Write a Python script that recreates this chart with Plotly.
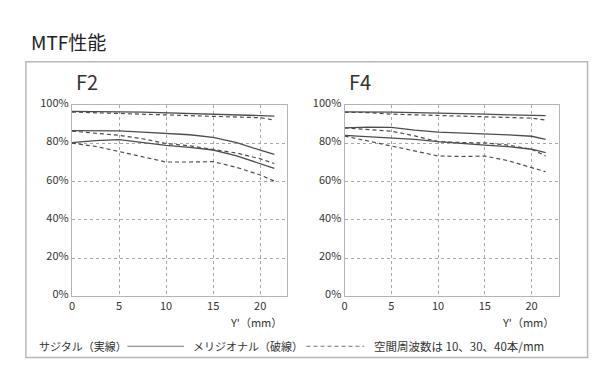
import plotly.graph_objects as go

# ---- data ----
y_pos = [0, 2.5, 5, 7.5, 10, 12.5, 15, 17.5, 20, 21.5]   # image height Y' (mm)

f2_sag_10 = [96.8, 96.8, 96.6, 96.4, 96.0, 95.8, 95.6, 95.0, 94.6, 94.4]
f2_sag_30 = [86.8, 86.8, 86.6, 86.0, 85.2, 84.6, 83.2, 80.5, 76.5, 74.3]
f2_sag_40 = [80.5, 81.5, 82.0, 80.5, 79.0, 78.0, 76.6, 73.5, 69.5, 67.0]
f2_mer_10 = [96.5, 96.2, 95.8, 95.5, 95.0, 94.6, 94.2, 94.0, 93.5, 92.3]
f2_mer_30 = [86.5, 85.3, 84.3, 82.5, 80.0, 78.8, 77.0, 75.0, 72.0, 69.5]
f2_mer_40 = [80.2, 78.5, 75.8, 73.0, 70.3, 70.3, 70.5, 67.5, 63.5, 60.3]

f4_sag_10 = [96.6, 96.6, 96.5, 96.2, 96.0, 95.7, 95.4, 95.0, 94.9, 94.6]
f4_sag_30 = [88.2, 88.6, 88.5, 87.0, 86.0, 85.6, 85.2, 84.5, 83.8, 82.2]
f4_sag_40 = [84.3, 83.6, 82.9, 82.2, 81.0, 80.0, 79.2, 78.4, 77.0, 75.2]
f4_mer_10 = [96.4, 96.2, 95.4, 95.0, 94.7, 94.5, 94.2, 93.8, 93.3, 92.3]
f4_mer_30 = [88.2, 87.5, 86.5, 84.0, 81.0, 80.5, 80.3, 79.2, 77.0, 73.5]
f4_mer_40 = [83.9, 81.2, 78.6, 76.2, 73.5, 73.2, 73.4, 71.0, 67.2, 65.2]

y_ticks = [0, 20, 40, 60, 80, 100]
y_tick_text = ["0%", "20%", "40%", "60%", "80%", "100%"]
x_ticks = [0, 5, 10, 15, 20]
x_tick_text = ["0", "5", "10", "15", "20"]

panel_titles = ["F2", "F4"]
title_text = "MTF性能"
axis_label = "Y'（mm）"
legend_sag = "サジタル（実線）"
legend_mer = "メリジオナル（破線）"
legend_note = "空間周波数は 10、30、40本/mm"

W, H = 600, 380
FONT = "Noto Sans CJK JP"
LINE_COL = "#4d4d4d"


def px(x):
    return x / W


def py(y):
    return 1 - y / H


fig = go.Figure()

panels = [
    ("x", "y", [f2_sag_10, f2_sag_30, f2_sag_40], [f2_mer_10, f2_mer_30, f2_mer_40]),
    ("x2", "y2", [f4_sag_10, f4_sag_30, f4_sag_40], [f4_mer_10, f4_mer_30, f4_mer_40]),
]
for xa, ya, sags, mers in panels:
    for s in mers:
        fig.add_trace(go.Scatter(x=y_pos, y=s, mode="lines", xaxis=xa, yaxis=ya,
                                 line=dict(color=LINE_COL, width=1.2, dash="4px,3px"),
                                 showlegend=False, hoverinfo="skip"))
    for s in sags:
        fig.add_trace(go.Scatter(x=y_pos, y=s, mode="lines", xaxis=xa, yaxis=ya,
                                 line=dict(color=LINE_COL, width=1.3),
                                 showlegend=False, hoverinfo="skip"))

ax_common = dict(showline=True, mirror=True, linecolor="#b4b4b4", linewidth=1.2,
                 showgrid=True, gridcolor="#a8a8a8", gridwidth=1, griddash="3px,3px",
                 zeroline=False, ticks="", tickfont=dict(family=FONT, size=11, color="#333"),
                 fixedrange=True)

y_dom = [py(297.7), py(98.5)]
fig.update_layout(
    width=W, height=H,
    margin=dict(l=0, r=0, t=0, b=0),
    paper_bgcolor="white", plot_bgcolor="white",
    xaxis=dict(domain=[px(69.3), px(285)], range=[0, 22.8], tickvals=x_ticks,
               ticktext=x_tick_text, anchor="y", **ax_common),
    yaxis=dict(domain=y_dom, range=[0, 100], tickvals=y_ticks, ticktext=y_tick_text,
               anchor="x", ticklabelstandoff=0, ticklabelshift=-2, **ax_common),
    xaxis2=dict(domain=[px(343.3), px(558.5)], range=[0, 22.9], tickvals=x_ticks,
                ticktext=x_tick_text, anchor="y2", **ax_common),
    yaxis2=dict(domain=y_dom, range=[0, 100], tickvals=y_ticks, ticktext=y_tick_text,
                anchor="x2", ticklabelstandoff=0, ticklabelshift=-2, **ax_common),
    showlegend=False,
)

# outer frame
fig.add_shape(type="rect", xref="paper", yref="paper",
              x0=px(23), x1=px(587.5), y0=py(361.7), y1=py(53),
              line=dict(color="#b8b8b8", width=1.5), fillcolor="rgba(0,0,0,0)")

# legend keys
fig.add_shape(type="line", xref="paper", yref="paper", x0=px(125), x1=px(182),
              y0=py(350), y1=py(350), line=dict(color="#777", width=1.2))
fig.add_shape(type="line", xref="paper", yref="paper", x0=px(305), x1=px(363),
              y0=py(350), y1=py(350), line=dict(color="#777", width=1.2, dash="4px,3px"))

ann = []
ann.append(dict(text=title_text, x=px(26), y=py(32), xanchor="left", yanchor="middle",
                font=dict(family=FONT, size=19, color="#222")))
ann.append(dict(text=panel_titles[0], x=px(71), y=py(74), xanchor="left", yanchor="middle",
                font=dict(family=FONT, size=20, color="#333")))
ann.append(dict(text=panel_titles[1], x=px(346), y=py(74), xanchor="left", yanchor="middle",
                font=dict(family=FONT, size=20, color="#333")))
ann.append(dict(text=axis_label, x=px(282), y=py(325), xanchor="right", yanchor="middle",
                font=dict(family=FONT, size=11, color="#333")))
ann.append(dict(text=axis_label, x=px(556), y=py(325), xanchor="right", yanchor="middle",
                font=dict(family=FONT, size=11, color="#333")))
ann.append(dict(text=legend_sag, x=px(34), y=py(350), xanchor="left", yanchor="middle",
                font=dict(family=FONT, size=11, color="#333")))
ann.append(dict(text=legend_mer, x=px(189), y=py(350), xanchor="left", yanchor="middle",
                font=dict(family=FONT, size=11, color="#333")))
ann.append(dict(text=legend_note, x=px(371), y=py(350), xanchor="left", yanchor="middle",
                font=dict(family=FONT, size=11.5, color="#333")))
for a in ann:
    a.update(xref="paper", yref="paper", showarrow=False)
fig.update_layout(annotations=ann)

post = ("document.documentElement.style.margin='0';document.body.style.margin='0';"
        "document.body.style.padding='0';document.body.style.overflow='hidden';")
fig.write_html("out.html", post_script=post, config={"displayModeBar": False})
